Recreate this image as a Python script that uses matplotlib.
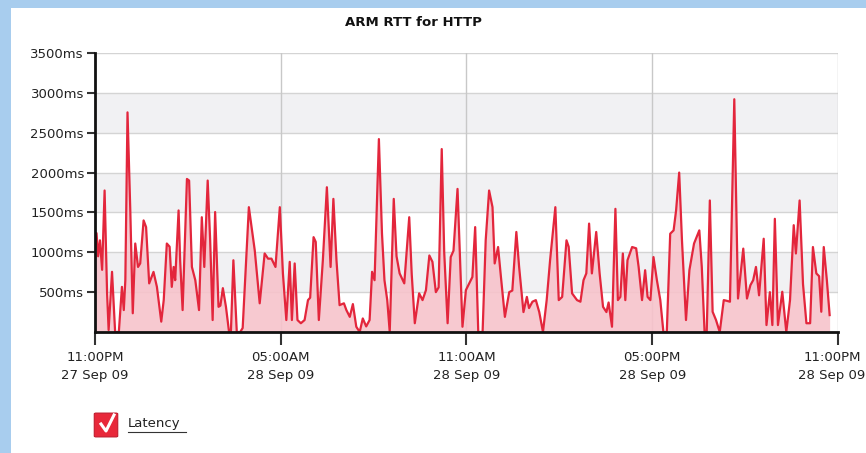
import matplotlib
matplotlib.use("Agg")
import matplotlib.pyplot as plt
import matplotlib.transforms as mtransforms
from matplotlib.patches import Rectangle, FancyBboxPatch

plt.rcParams['font.family'] = ['DejaVu Sans']

title = "ARM RTT for HTTP"
series_name = "Latency"

# hours since 11:00PM 27 Sep 09
hours = [0.00, 0.05, 0.10, 0.16, 0.23, 0.31, 0.39, 0.44, 0.55, 0.65, 0.77, 0.87, 0.93, 0.98,
         1.05, 1.14, 1.22, 1.30, 1.39, 1.46, 1.57, 1.65, 1.75, 1.89, 2.00, 2.14, 2.22, 2.32,
         2.41, 2.48, 2.54, 2.59, 2.70, 2.75, 2.83, 2.97, 3.04, 3.13, 3.24, 3.36, 3.45, 3.53,
         3.64, 3.72, 3.80, 3.88, 3.99, 4.05, 4.13, 4.23, 4.33, 4.39, 4.47, 4.58, 4.69, 4.77,
         4.97, 5.16, 5.32, 5.48, 5.59, 5.70, 5.83, 5.97, 6.07, 6.18, 6.29, 6.36, 6.45, 6.54,
         6.65, 6.77, 6.88, 6.95, 7.06, 7.13, 7.23, 7.36, 7.49, 7.61, 7.70, 7.80, 7.90, 8.04,
         8.12, 8.23, 8.33, 8.44, 8.55, 8.65, 8.76, 8.87, 8.95, 9.03, 9.17, 9.27, 9.35, 9.44,
         9.52, 9.65, 9.74, 9.84, 9.99, 10.15, 10.23, 10.33, 10.47, 10.58, 10.69, 10.80, 10.90,
         11.01, 11.10, 11.20, 11.28, 11.39, 11.49, 11.58, 11.71, 11.80, 11.87, 11.98, 12.09,
         12.19, 12.28, 12.38, 12.52, 12.62, 12.73, 12.84, 12.91, 13.02, 13.11, 13.24, 13.38,
         13.48, 13.61, 13.70, 13.84, 13.95, 14.02, 14.13, 14.24, 14.35, 14.47, 14.59, 14.70,
         14.87, 14.98, 15.09, 15.23, 15.30, 15.41, 15.57, 15.68, 15.78, 15.87, 15.96, 16.05,
         16.19, 16.30, 16.41, 16.52, 16.59, 16.70, 16.81, 16.89, 16.97, 17.05, 17.13, 17.20,
         17.35, 17.48, 17.56, 17.67, 17.77, 17.85, 17.94, 18.04, 18.15, 18.26, 18.36, 18.47,
         18.58, 18.69, 18.77, 18.87, 18.96, 19.09, 19.20, 19.35, 19.52, 19.60, 19.69, 19.76,
         19.86, 19.95, 20.06, 20.18, 20.31, 20.42, 20.51, 20.65, 20.77, 20.94, 21.06, 21.17,
         21.26, 21.35, 21.45, 21.60, 21.69, 21.80, 21.88, 21.96, 22.06, 22.20, 22.33, 22.45,
         22.57, 22.64, 22.76, 22.87, 22.98, 23.10, 23.19, 23.30, 23.39, 23.46, 23.54, 23.64,
         23.73]

latency_ms = [1100, 1240, 950, 1150, 780, 1775, 490, 25, 755, 0, 0, 566, 275, 650,
              2755, 1525, 235, 1110, 816, 860, 1400, 1316, 610, 754, 566, 130, 400, 1110,
              1070, 566, 816, 650, 1525, 900, 275, 1920, 1900, 816, 650, 275, 1440, 816,
              1900, 1150, 150, 1505, 316, 330, 550, 316, 0, 0, 900, 0, 0, 50,
              1566, 1025, 360, 985, 920, 920, 816, 1566, 735, 150, 880, 150, 860, 150,
              110, 150, 400, 430, 1190, 1130, 150, 900, 1816, 816, 1670, 900, 337, 360,
              275, 190, 350, 66, 0, 170, 70, 150, 755, 650, 2420, 1235, 650, 400,
              0, 1670, 950, 735, 610, 1440, 730, 110, 485, 400, 525, 960, 880,
              500, 560, 2295, 1000, 110, 940, 1020, 1795, 816, 66, 525, 610,
              690, 1316, 0, 0, 1150, 1775, 1566, 860, 1066, 700, 190, 500,
              520, 1255, 816, 250, 440, 300, 380, 400, 250, 0, 400, 900,
              1566, 400, 440, 1150, 1070, 485, 400, 380, 650, 735, 1360, 735,
              1255, 735, 316, 250, 370, 66, 1545, 400, 440, 985, 400, 900,
              1066, 1050, 816, 400, 775, 440, 400, 940, 650, 400, 0, 0,
              1233, 1275, 1525, 2000, 1150, 150, 775, 1110, 1275, 816, 0, 0,
              1650, 254, 150, 0, 400, 390, 380, 2920, 420, 1046, 420, 587,
              650, 816, 460, 1170, 87, 500, 87, 1420, 87, 505, 0, 400,
              1340, 985, 1650, 600, 110, 110, 1066, 735, 700, 254, 1066, 650,
              212]

y_ticks = [500, 1000, 1500, 2000, 2500, 3000, 3500]
y_labels = ["500ms", "1000ms", "1500ms", "2000ms", "2500ms", "3000ms", "3500ms"]
x_ticks = [0, 6, 12, 18, 24]
x_labels = ["11:00PM\n27 Sep 09", "05:00AM\n28 Sep 09", "11:00AM\n28 Sep 09",
            "05:00PM\n28 Sep 09", "11:00PM\n28 Sep 09"]
bands = [(500, 1000), (1500, 2000), (2500, 3000)]

W, H = 866, 453
fig = plt.figure(figsize=(W / 100, H / 100), dpi=100)
fig.patch.set_facecolor('#a8cdee')
bg = Rectangle((11 / W, 0), 1 - 11 / W, 1 - 8 / H, transform=fig.transFigure,
               facecolor='white', edgecolor='none', zorder=-10)
fig.add_artist(bg)

ax = fig.add_axes([95 / W, 1 - 332 / H, (838 - 95) / W, (332 - 53) / H])
ax.set_zorder(1)
ax.set_facecolor('white')
for lo, hi in bands:
    ax.axhspan(lo, hi, color='#f1f1f3', zorder=0, lw=0)
for yt in y_ticks:
    ax.axhline(yt, color='#d4d4d4', lw=1, zorder=1)
for xt in x_ticks[1:]:
    ax.axvline(xt, color='#c8c8c8', lw=1, zorder=1)

ax.fill_between(hours, latency_ms, 0, color='#f7c3cb', alpha=0.9, zorder=2, lw=0)
ax.plot(hours, latency_ms, color='#e3263c', lw=1.6, zorder=3)

ax.set_xlim(0, 24)
ax.set_ylim(0, 3500)
ax.set_yticks(y_ticks)
ax.set_yticklabels(y_labels)
ax.set_xticks(x_ticks)
ax.set_xticklabels(x_labels)
for s in ['top', 'right']:
    ax.spines[s].set_visible(False)
for s in ['left', 'bottom']:
    ax.spines[s].set_linewidth(2)
    ax.spines[s].set_color('#111111')
    ax.spines[s].set_zorder(5)
ax.tick_params(axis='y', length=6, width=1.5, color='#333333', labelsize=9.5,
               labelcolor='#222222', pad=2)
ax.tick_params(axis='x', length=9, width=1.5, color='#333333', labelsize=9.5,
               labelcolor='#222222', pad=5)
xlabs = ax.get_xticklabels()
for lab in xlabs:
    lab.set_linespacing(1.45)
# nudge the last label so it stays inside the picture
shift = mtransforms.ScaledTranslation(-6 / 100, 0, fig.dpi_scale_trans)
xlabs[-1].set_transform(xlabs[-1].get_transform() + shift)

fig.text(413 / W, 1 - 22 / H, title, ha='center', va='center', fontsize=9.5,
         fontweight='bold', color='#111111')

# legend checkbox
box = FancyBboxPatch((96 / W, 1 - 436 / H), 20 / W, 22 / H, boxstyle='round,pad=0.002',
                     transform=fig.transFigure, facecolor='#e8283a', edgecolor='#c01a2c',
                     lw=0.8)
fig.add_artist(box)
fig.add_artist(plt.Line2D([101 / W, 106 / W, 114 / W],
                          [1 - 424 / H, 1 - 431 / H, 1 - 415 / H],
                          transform=fig.transFigure, color='white', lw=2.2))
fig.text(128 / W, 1 - 424 / H, series_name, ha='left', va='center', fontsize=9.5,
         color='#222222')
fig.add_artist(plt.Line2D([128 / W, 186 / W], [1 - 432 / H, 1 - 432 / H],
                          transform=fig.transFigure, color='#333333', lw=0.8))

fig.savefig('out.png', dpi=100)
